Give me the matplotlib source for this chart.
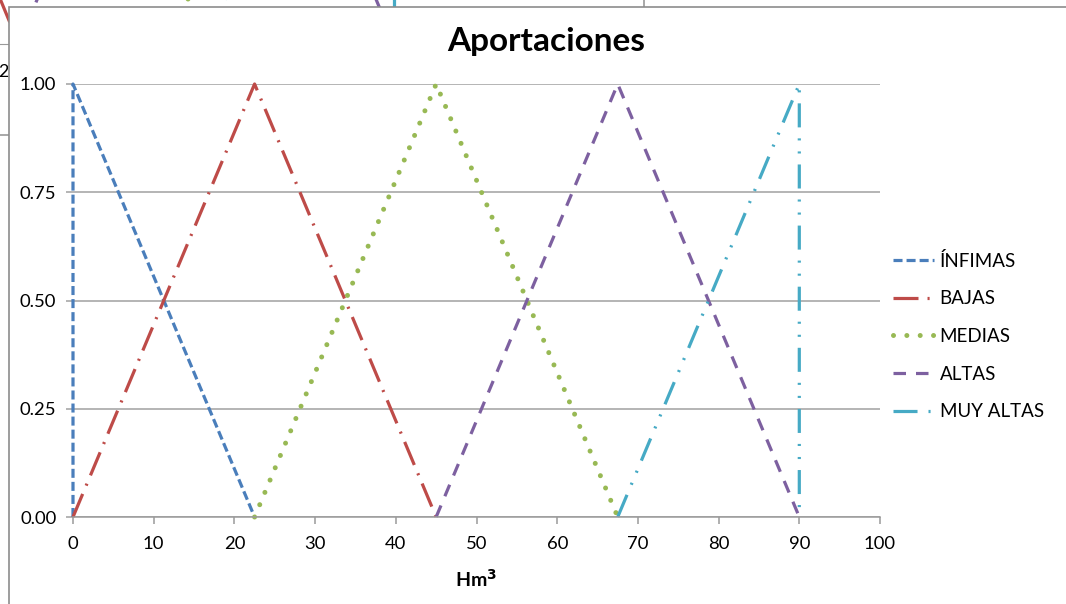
import matplotlib
matplotlib.use("Agg")
import matplotlib.pyplot as plt
from matplotlib.patches import Rectangle
from matplotlib.ticker import FormatStrFormatter

plt.rcParams["font.family"] = ["Lato", "DejaVu Sans"]
plt.rcParams["lines.scale_dashes"] = False

# Membership functions for inflow volume (Hm³)
labels = ["ÍNFIMAS", "BAJAS", "MEDIAS", "ALTAS", "MUY ALTAS"]
infimas_x = [0, 0, 22.5]
infimas_y = [0, 1, 0]
bajas_x = [0, 22.5, 45]
bajas_y = [0, 1, 0]
medias_x = [22.5, 45, 67.5]
medias_y = [0, 1, 0]
altas_x = [45, 67.5, 90]
altas_y = [0, 1, 0]
muy_altas_x = [67.5, 90, 90]
muy_altas_y = [0, 1, 0]

x_ticks = [0, 10, 20, 30, 40, 50, 60, 70, 80, 90, 100]
y_ticks = [0.00, 0.25, 0.50, 0.75, 1.00]

series = [
    (infimas_x, infimas_y, dict(color="#4A7EBB", lw=2.3, linestyle=(0, (6.5, 2.9)))),
    (bajas_x, bajas_y, dict(color="#BE4B48", lw=2.3, linestyle=(0, (18, 6.5, 1.5, 6.5)))),
    (medias_x, medias_y, dict(color="#98B954", lw=3.6, linestyle=(0, (0.01, 9.6)),
                              dash_capstyle="round")),
    (altas_x, altas_y, dict(color="#7D60A0", lw=2.3, linestyle=(0, (9, 7.2)))),
    (muy_altas_x, muy_altas_y, dict(color="#46AAC5", lw=2.3,
                                    linestyle=(0, (17.3, 7.9, 1.5, 7.9, 1.5, 7.9)))),
]

W, H = 1066, 604
fig = plt.figure(figsize=(W / 100, H / 100), dpi=100)
fig.patch.set_facecolor("white")

# Partially hidden chart in the background
bg = fig.add_axes([-357 / W, (H - 44) / H, 835 / W, 455 / H], zorder=-3)
bg.set_xlim(0, 100)
bg.set_ylim(0, 1)
bg.patch.set_visible(False)
for s in ["top", "right", "left"]:
    bg.spines[s].set_visible(False)
bg.spines["bottom"].set_color("#9A9A9A")
bg.set_xticks([])
bg.set_yticks([])
for xs, ys, st in series:
    bg.plot(xs, ys, **st)
fig.add_artist(Rectangle((-0.05, (H - 135) / H), (644 / W) + 0.05, 0.5,
                         transform=fig.transFigure, facecolor="none",
                         edgecolor="#9A9A9A", lw=1.2, zorder=-2))
fig.text(-2 / W, (H - 72) / H, "2", fontsize=13, va="center", ha="left", zorder=-2)

# Chart frame of the main chart
fig.add_artist(Rectangle((9 / W, -0.05), 2.0, (H - 7) / H + 0.05,
                         transform=fig.transFigure, facecolor="white",
                         edgecolor="#8C8C8C", lw=1.2, zorder=-1))

ax = fig.add_axes([73 / W, (H - 517) / H, (880 - 73) / W, (517 - 84) / H], zorder=1)
ax.patch.set_visible(False)
lines = []
for (xs, ys, st), lab in zip(series, labels):
    ln, = ax.plot(xs, ys, label=lab, clip_on=False, **st)
    lines.append(ln)

ax.set_xlim(0, 100)
ax.set_ylim(0, 1)
ax.set_xticks(x_ticks)
ax.set_yticks(y_ticks)
ax.yaxis.set_major_formatter(FormatStrFormatter("%.2f"))
ax.grid(axis="y", color="#A0A0A0", lw=1.1)
ax.set_axisbelow(True)
for s in ["top", "right"]:
    ax.spines[s].set_visible(False)
ax.spines["left"].set_visible(False)
ax.spines["bottom"].set_color("#9A9A9A")
ax.spines["bottom"].set_linewidth(1.1)
ax.tick_params(axis="x", direction="out", length=5, width=1.1, color="#9A9A9A",
               labelsize=13.3, pad=9, labelcolor="black")
ax.tick_params(axis="y", direction="out", length=5, width=1.1, color="#A0A0A0",
               labelsize=13.3, pad=7, labelcolor="black")
ax.set_xlabel("Hm$^{\\mathbf{3}}$", fontsize=14, fontweight="bold", labelpad=11)

fig.text(546 / W, (H - 42) / H, "Aportaciones", fontsize=24, fontweight="bold",
         ha="center", va="center")

ax.legend(handles=lines, loc="center left", bbox_to_anchor=(893 / W, (H - 336) / H),
          bbox_transform=fig.transFigure, frameon=False, fontsize=13.5,
          handlelength=2.2, handletextpad=0.28, labelspacing=1.1,
          borderpad=0, borderaxespad=0)

fig.savefig("out.png", dpi=100, facecolor="white")
